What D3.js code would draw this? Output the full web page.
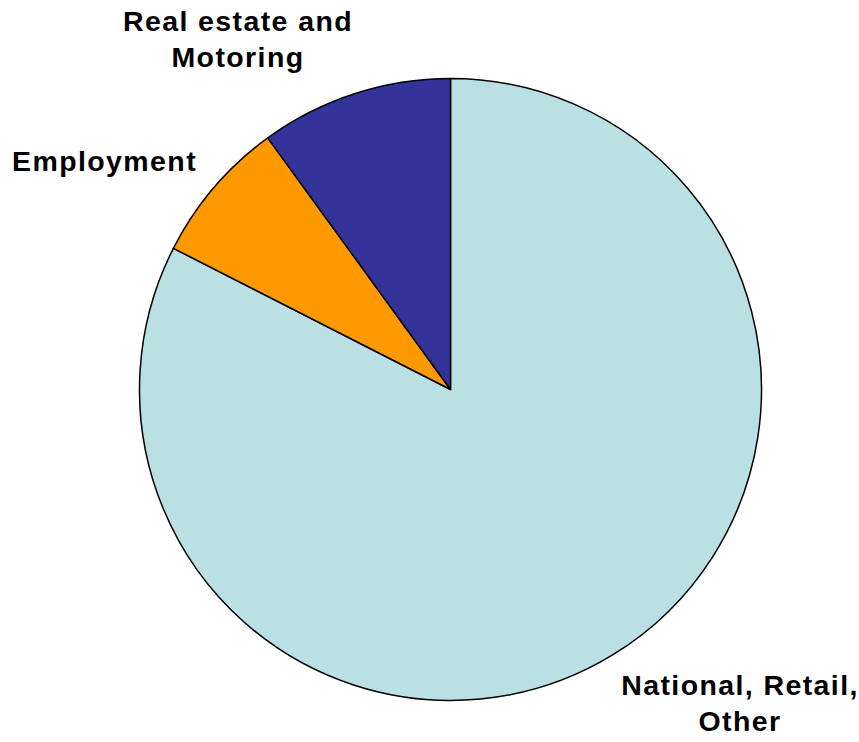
<!DOCTYPE html>
<html><head><meta charset="utf-8">
<script src="https://cdn.jsdelivr.net/npm/d3@7"></script>
<style>body{margin:0;background:#fff}</style>
</head><body>
<svg id="chart" width="859" height="742"></svg>
<script>
const categories = ["National, Retail, Other", "Employment", "Real estate and Motoring"];
const values = [82.5, 7.5, 10.0];
const colors = ["#BAE0E3", "#FF9900", "#333399"];
const labelLines = [["National, Retail,", "Other"], ["Employment"], ["Real estate and", "Motoring"]];

const svg = d3.select("#chart");
const cx = 450.5, cy = 389.5, r = 311;
const g = svg.append("g").attr("transform", `translate(${cx},${cy})`);
const pie = d3.pie().sort(null).value(d => d.v);
const data = pie(categories.map((c, i) => ({c, v: values[i], col: colors[i]})));
const arc = d3.arc().innerRadius(0).outerRadius(r);
g.selectAll("path").data(data).join("path")
  .attr("d", arc).attr("fill", d => d.data.col)
  .attr("stroke", "#000").attr("stroke-width", 1.5).attr("stroke-linejoin","round");

const labelPos = [{x: 740, y: 695, anchor: "middle"}, {x: 12, y: 171, anchor: "start"}, {x: 238, y: 31, anchor: "middle"}];
labelLines.forEach((lines, i) => {
  const t = svg.append("text").attr("x", labelPos[i].x).attr("y", labelPos[i].y)
    .attr("text-anchor", labelPos[i].anchor)
    .attr("font-family", "Liberation Sans, Arial, sans-serif")
    .attr("font-weight", "bold").attr("font-size", 28.5).attr("letter-spacing", 1.4).attr("fill", "#000");
  lines.forEach((l, j) => t.append("tspan").attr("x", labelPos[i].x).attr("dy", j ? 36 : 0).text(l));
});
</script>
</body></html>
